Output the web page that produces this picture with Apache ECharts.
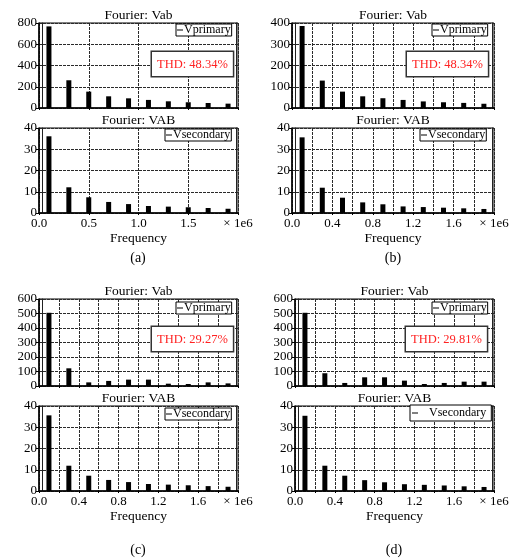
<!DOCTYPE html>
<html><head><meta charset="utf-8">
<script src="https://cdn.jsdelivr.net/npm/echarts@6/dist/echarts.min.js"></script>
<style>html,body{margin:0;padding:0;background:#fff}#c{width:512px;height:560px}</style>
</head><body><div id="c"></div>
<script>
const freq = [100000, 300000, 500000, 700000, 900000, 1100000, 1300000, 1500000, 1700000, 1900000];
const primA = [768, 261, 154, 110, 91, 76, 63, 54, 47, 41];
const secA  = [36.1, 12.1, 7.4, 5.2, 4.2, 3.3, 3.0, 2.7, 2.35, 2.0];
const primB = [386, 129, 77, 55, 46, 38, 31, 27, 24, 20];
const secB  = [35.6, 11.9, 7.2, 5.0, 4.1, 3.1, 2.8, 2.5, 2.2, 1.9];
const primC = [505, 122, 25, 35, 44, 44, 16, 14, 25, 18];
const secC  = [35.6, 11.9, 7.2, 5.2, 4.2, 3.3, 3.0, 2.7, 2.3, 2.0];
const primD = [505, 88, 21, 60, 60, 37, 14, 21, 30, 30];
const secD  = [35.4, 11.9, 7.2, 5.1, 4.1, 3.2, 2.9, 2.6, 2.2, 1.9];
const thdLabels = ['THD: 48.34%', 'THD: 48.34%', 'THD: 29.27%', 'THD: 29.81%'];
const panelLabels = ['(a)', '(b)', '(c)', '(d)'];
const titleTop = 'Fourier: Vab';
const titleBottom = 'Fourier: VAB';

const FONT = '"Liberation Serif","DejaVu Serif",serif';

const panels = [
  {left:39, width:199, topT:23, hT:85, topB:128, hB:85, xInt:500000, labelEvery:1, pMax:800, pInt:200, prim:primA, sec:secA,
   legT:[176,24], legB:[165,129], thd:[152,52], lab:[138,258]},
  {left:292, width:202, topT:23, hT:85, topB:128, hB:85, xInt:200000, labelEvery:2, pMax:400, pInt:100, prim:primB, sec:secB,
   legT:[432,24], legB:[420,129], thd:[407,52], lab:[393,258]},
  {left:39, width:199, topT:299, hT:87, topB:406, hB:85, xInt:200000, labelEvery:2, pMax:600, pInt:100, prim:primC, sec:secC,
   legT:[176,302], legB:[165,408], thd:[152,327], lab:[138,550]},
  {left:295, width:199, topT:299, hT:87, topB:406, hB:85, xInt:200000, labelEvery:2, pMax:600, pInt:100, prim:primD, sec:secD,
   legT:[432,302], legB:[410,405], thd:[406,327], lab:[394,550], bigLeg:true}
];

const grids = [], xAxes = [], yAxes = [], series = [], legends = [], graphics = [];
const split = {show:true, lineStyle:{color:'#2a2a2a', type:[3,1], width:1}};

panels.forEach((p, pi) => {
  [0,1].forEach(sub => {
    const gi = grids.length;
    const top = sub === 0 ? p.topT : p.topB;
    const h = sub === 0 ? p.hT : p.hB;
    grids.push({left:p.left, top:top, width:p.width, height:h, show:true, borderColor:'#000', borderWidth:1});
    xAxes.push({
      type:'value', gridIndex:gi, min:0, max:2000000, interval:p.xInt,
      axisLine:{show:true, onZero:false, lineStyle:{color:'#000', width:1.5}},
      axisTick:{show:true, length:2, lineStyle:{color:'#000'}},
      axisLabel:{show: sub === 1, color:'#000', fontFamily:FONT, fontSize:13, margin:4, showMaxLabel:true, showMinLabel:true,
        formatter: v => {
          if (v >= 1999999) return '\u00d7 1e6';
          const k = Math.round(v / p.xInt);
          if (k % p.labelEvery !== 0) return '';
          return (v/1e6).toFixed(1);
        }},
      name: sub === 1 ? 'Frequency' : '', nameLocation:'middle', nameGap:18,
      nameTextStyle:{color:'#000', fontFamily:FONT, fontSize:13.5},
      splitLine:split
    });
    yAxes.push({
      type:'value', gridIndex:gi, min:0, max: sub === 0 ? p.pMax : 40, interval: sub === 0 ? p.pInt : 10,
      axisLine:{show:true, lineStyle:{color:'#000', width:1.5}},
      axisTick:{show:true, length:3, lineStyle:{color:'#000'}},
      axisLabel:{color:'#000', fontFamily:FONT, fontSize:13, margin:2},
      splitLine:split
    });
    const yi = yAxes.length - 1;
    // inner double-frame lines seen next to the left and right borders
    yAxes.push({type:'value', gridIndex:gi, position:'left', offset:-3, min:0, max:1,
      axisLine:{show:true, lineStyle:{color:'#222', width:1}}, axisTick:{show:false}, axisLabel:{show:false}, splitLine:{show:false}});
    yAxes.push({type:'value', gridIndex:gi, position:'right', offset:-2, min:0, max:1,
      axisLine:{show:true, lineStyle:{color:'#222', width:1}}, axisTick:{show:false}, axisLabel:{show:false}, splitLine:{show:false}});
    const name = sub === 0 ? 'Vprimary' : 'Vsecondary';
    const vals = sub === 0 ? p.prim : p.sec;
    series.push({type:'bar', name:name, xAxisIndex:gi, yAxisIndex:yi, barWidth:5,
      itemStyle:{color:'#000'}, data: freq.map((f,k) => [f, vals[k]]), animation:false});
    const lp = sub === 0 ? p.legT : p.legB;
    const big = sub === 1 && p.bigLeg;
    legends.push({data:[name], left:lp[0], top:lp[1], selectedMode:false, icon:'rect',
      itemWidth: 6, itemHeight:1, itemGap:0,
      padding: big ? [2,5,2,2] : [0,1,0,1],
      borderColor:'#000', borderWidth:1, backgroundColor:'#fff',
      textStyle:{color:'#000', fontFamily:FONT, fontSize:12, padding: big ? [0,0,0,6] : [0,0,0,-4]}});
    graphics.push({type:'text', x: p.left + p.width/2, y: top - 8,
      style:{text: sub === 0 ? titleTop : titleBottom, fill:'#000', font:'13.5px ' + FONT, align:'center', verticalAlign:'middle', textAlign:'center', textVerticalAlign:'middle'}});
  });
  graphics.push({type:'text', x:p.thd[0], y:p.thd[1], z:100,
    style:{text:thdLabels[pi], fill:'#f22', font:'12.5px ' + FONT, backgroundColor:'#fff', borderColor:'#333', borderWidth:1.5, padding:[6,5,5,5]}});
  graphics.push({type:'text', x:p.lab[0], y:p.lab[1],
    style:{text:panelLabels[pi], fill:'#000', font:'14px ' + FONT, align:'center', verticalAlign:'middle', textAlign:'center', textVerticalAlign:'middle'}});
});

const chart = echarts.init(document.getElementById('c'), null, {renderer:'canvas'});
chart.setOption({
  backgroundColor:'#fff', animation:false,
  grid:grids, xAxis:xAxes, yAxis:yAxes, series:series, legend:legends, graphic:graphics
});
</script></body></html>
